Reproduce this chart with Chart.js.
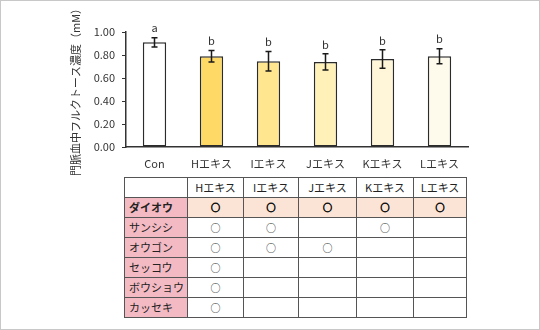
<!DOCTYPE html>
<html lang="ja">
<head>
  <meta charset="UTF-8">
  <title>門脈血中フルクトース濃度</title>
  <script src="https://cdn.jsdelivr.net/npm/chart.js"></script>
  <style>
    html, body { margin: 0; padding: 0; background: #fff; }
    body {
      width: 540px; height: 330px; position: relative; overflow: hidden;
      box-sizing: border-box; border: 1px solid #c8c8c8;
      font-family: "Noto Sans CJK JP", sans-serif;
    }
    #chartBox { position: absolute; left: -1px; top: -1px; width: 540px; height: 176px; }
    #herbTable {
      position: absolute; left: 123px; top: 176px;
      border-collapse: collapse; table-layout: fixed;
      font-size: 11px; color: #222;
      border: 1.5px solid #555;
    }
    #herbTable td {
      border: 1px solid #555; height: 19px; padding: 0; line-height: 19px;
      text-align: center; white-space: nowrap;
    }
    #herbTable td.name { text-align: left; padding-left: 4px; background: #f4bac4; }
    #herbTable tr.main td { background: #fbe4d5; font-weight: bold; }
    #herbTable tr.main td.name { background: #f4bac4; }
    #herbTable td.mark { font-size: 10px; color: #222; }
    #herbTable tr.main td.mark { font-size: 9px; color: #111; -webkit-text-stroke: 0.8px #111; }
  </style>
</head>
<body>
  <div id="chartBox"><canvas id="fructoseChart"></canvas></div>
  <table id="herbTable"></table>

  <script>
    // bar chart data
    const groups = ['Con', 'Hエキス', 'Iエキス', 'Jエキス', 'Kエキス', 'Lエキス'];
    const means = [0.91, 0.79, 0.745, 0.74, 0.765, 0.79];
    const errors = [0.04, 0.05, 0.085, 0.07, 0.08, 0.065];
    const letters = ['a', 'b', 'b', 'b', 'b', 'b'];
    const barColors = ['#ffffff', '#ffd966', '#ffe68f', '#fff1b8', '#fff6da', '#fffbec'];

    // which crude drugs each extract contains
    const extracts = ['Hエキス', 'Iエキス', 'Jエキス', 'Kエキス', 'Lエキス'];
    const herbs = ['ダイオウ', 'サンシシ', 'オウゴン', 'セッコウ', 'ボウショウ', 'カッセキ'];
    const contains = [
      [1, 1, 1, 1, 1],
      [1, 1, 0, 1, 0],
      [1, 1, 1, 0, 0],
      [1, 0, 0, 0, 0],
      [1, 0, 0, 0, 0],
      [1, 0, 0, 0, 0]
    ];
    const colWidths = [63, 56, 55, 58, 57, 53];

    // error bars and significance letters
    const errorBarPlugin = {
      id: 'errorBars',
      afterDatasetsDraw(chart) {
        const ctx = chart.ctx;
        const xs = chart.scales.x, ys = chart.scales.y;
        ctx.save();
        ctx.strokeStyle = '#1a1a1a';
        ctx.lineWidth = 1.5;
        ctx.fillStyle = '#333';
        ctx.font = '11px "Noto Sans CJK JP", sans-serif';
        ctx.textAlign = 'center';
        ctx.textBaseline = 'bottom';
        means.forEach((m, i) => {
          const x = xs.getPixelForValue(i);
          const top = ys.getPixelForValue(m + errors[i]);
          const bot = ys.getPixelForValue(m - errors[i]);
          ctx.beginPath();
          ctx.moveTo(x, top); ctx.lineTo(x, bot);
          ctx.moveTo(x - 3, top); ctx.lineTo(x + 3, top);
          ctx.moveTo(x - 3, bot); ctx.lineTo(x + 3, bot);
          ctx.stroke();
          ctx.fillText(letters[i], x, top - 4);
        });
        ctx.restore();
      }
    };

    new Chart(document.getElementById('fructoseChart'), {
      type: 'bar',
      data: {
        labels: groups,
        datasets: [{
          data: means,
          backgroundColor: barColors,
          borderColor: '#2b2b2b',
          borderWidth: 1.5,
          borderSkipped: false,
          categoryPercentage: 1,
          barPercentage: 0.41
        }]
      },
      options: {
        responsive: true,
        maintainAspectRatio: false,
        animation: false,
        layout: { padding: { left: 0, right: 72, top: 32, bottom: 0 } },
        plugins: { legend: { display: false }, tooltip: { enabled: false } },
        scales: {
          x: {
            grid: { display: false, drawTicks: false },
            border: { color: '#333', width: 1.5 },
            ticks: { color: '#333', padding: 10, font: { size: 11, family: '"Noto Sans CJK JP", sans-serif' } },
            afterFit(s) { s.height = 29; }
          },
          y: {
            min: 0, max: 1,
            grid: { drawOnChartArea: false, tickLength: 4, color: '#333' },
            border: { color: '#333', width: 1.5 },
            ticks: {
              stepSize: 0.2, padding: 7, color: '#333',
              font: { size: 11, family: '"Noto Sans CJK JP", sans-serif' },
              callback: v => v.toFixed(2)
            },
            title: {
              display: true,
              text: '門脈血中フルクトース濃度（mM）',
              color: '#333',
              padding: { top: 69, bottom: 0 },
              font: { size: 11, family: '"Noto Sans CJK JP", sans-serif' }
            },
            afterFit(s) { s.width = 126; }
          }
        }
      },
      plugins: [errorBarPlugin]
    });

    // composition table
    const table = document.getElementById('herbTable');
    const colgroup = document.createElement('colgroup');
    colWidths.forEach(w => {
      const c = document.createElement('col');
      c.style.width = w + 'px';
      colgroup.appendChild(c);
    });
    table.appendChild(colgroup);

    const head = table.insertRow();
    head.insertCell().textContent = '';
    extracts.forEach(e => { head.insertCell().textContent = e; });

    herbs.forEach((h, r) => {
      const row = table.insertRow();
      if (r === 0) row.className = 'main';
      const nameCell = row.insertCell();
      nameCell.className = 'name';
      nameCell.textContent = h;
      contains[r].forEach(v => {
        const cell = row.insertCell();
        cell.className = 'mark';
        cell.textContent = v ? '○' : '';
      });
    });
  </script>
</body>
</html>
